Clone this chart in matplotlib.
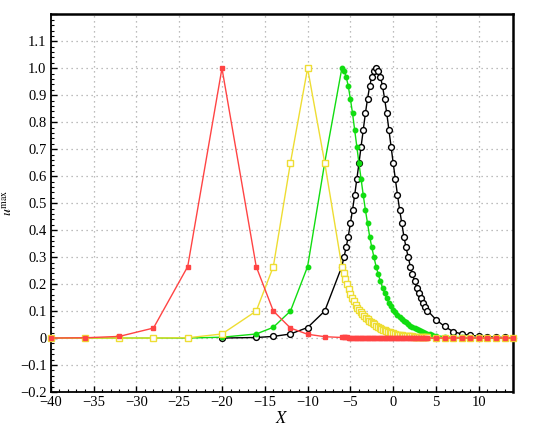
import matplotlib
matplotlib.use("Agg")
import matplotlib.pyplot as plt
from matplotlib.ticker import MultipleLocator, FuncFormatter

# ---- data ----
# red: filled squares, peak at x=-20
red_x_coarse = [-40, -36, -32, -28, -24, -20, -16, -14, -12, -10, -8]
red_y_coarse = [0.0, 0.001, 0.006, 0.037, 0.265, 1.0, 0.265, 0.10, 0.037, 0.014, 0.005]
red_y_fine = [0.002, 0.002, 0.002, 0.002, 0.0018, 0.0016, 0.0015, 0.0014, 0.0013, 0.0012,
              0.0011, 0.001, 0.001, 0.0009, 0.0008, 0.0008, 0.0007, 0.0007, 0.0006, 0.0006,
              0.0005, 0.0005, 0.0005, 0.0004, 0.0004, 0.0004, 0.0003, 0.0003, 0.0003, 0.0003,
              0.0002, 0.0002, 0.0002, 0.0002, 0.0002, 0.0001, 0.0001, 0.0001, 0.0001, 0.0001,
              0.0001, 0.0001, 0.0, 0.0, 0.0, 0.0, 0.0, 0.0, 0.0, 0.0, 0.0]
red_y_tail = [0.0, 0.0, 0.0, 0.0, 0.0, 0.0, 0.0, 0.0, 0.0, 0.0]

# yellow: open squares, peak at x=-10
yellow_x_coarse = [-40, -36, -32, -28, -24, -20, -16, -14, -12, -10, -8]
yellow_y_coarse = [0.0, 0.0, 0.0, 0.0, 0.001, 0.015, 0.10, 0.265, 0.65, 1.0, 0.65]
yellow_y_fine = [0.265, 0.242, 0.219, 0.200, 0.181, 0.164, 0.150, 0.136, 0.123, 0.113,
                 0.104, 0.096, 0.089, 0.082, 0.076, 0.070, 0.065, 0.060, 0.056, 0.051,
                 0.046, 0.042, 0.038, 0.034, 0.031, 0.028, 0.026, 0.023, 0.021, 0.019,
                 0.017, 0.015, 0.013, 0.012, 0.011, 0.010, 0.009, 0.008, 0.0075, 0.007,
                 0.0065, 0.006, 0.0055, 0.005, 0.0045, 0.004, 0.0037, 0.0034, 0.0031, 0.0028,
                 0.0025]
yellow_y_tail = [0.001, 0.0005, 0.0003, 0.0002, 0.0001, 0.0, 0.0, 0.0, 0.0, 0.0]

# green: filled circles, peak at x=-6
green_x_coarse = [-40, -36, -32, -28, -24, -20, -16, -14, -12, -10, -8]
green_y_coarse = [0.0, 0.0, 0.0, 0.0, 0.0, 0.003, 0.015, 0.04, 0.10, 0.265, 0.65]
green_y_fine = [1.0, 0.991, 0.969, 0.934, 0.886, 0.833, 0.771, 0.710, 0.648, 0.589,
                0.530, 0.475, 0.426, 0.376, 0.336, 0.300, 0.265, 0.237, 0.210, 0.187,
                0.166, 0.147, 0.131, 0.117, 0.105, 0.095, 0.086, 0.078, 0.070, 0.064,
                0.058, 0.052, 0.046, 0.041, 0.036, 0.032, 0.028, 0.025, 0.022, 0.019,
                0.016, 0.014, 0.012]
green_y_tail = [0.009, 0.005, 0.003, 0.002, 0.001, 0.0, 0.0, 0.0, 0.0, 0.0]

# black: open circles, peak near x=-2
black_x_coarse = [-20, -16, -14, -12, -10, -8]
black_y_coarse = [0.0, 0.002, 0.006, 0.015, 0.039, 0.10]
black_y_fine = [0.265, 0.300, 0.336, 0.376, 0.426, 0.475, 0.530, 0.589, 0.648, 0.710,
                0.771, 0.833, 0.886, 0.934, 0.969, 0.991, 1.0, 0.991, 0.969, 0.934,
                0.886, 0.833, 0.771, 0.710, 0.648, 0.589, 0.530, 0.475, 0.426, 0.376,
                0.336, 0.300, 0.265, 0.237, 0.210, 0.187, 0.166, 0.147, 0.131, 0.116,
                0.102]
black_y_tail = [0.068, 0.043, 0.024, 0.015, 0.010, 0.007, 0.005, 0.003, 0.002, 0.001]

# sample grids
x_fine_02 = [-6.0, -5.8, -5.6, -5.4, -5.2, -5.0, -4.8, -4.6, -4.4, -4.2,
             -4.0, -3.8, -3.6, -3.4, -3.2, -3.0, -2.8, -2.6, -2.4, -2.2,
             -2.0, -1.8, -1.6, -1.4, -1.2, -1.0, -0.8, -0.6, -0.4, -0.2,
             0.0, 0.2, 0.4, 0.6, 0.8, 1.0, 1.2, 1.4, 1.6, 1.8,
             2.0, 2.2, 2.4, 2.6, 2.8, 3.0, 3.2, 3.4, 3.6, 3.8, 4.0]
x_fine_025 = [-6.0, -5.75, -5.5, -5.25, -5.0, -4.75, -4.5, -4.25, -4.0, -3.75,
              -3.5, -3.25, -3.0, -2.75, -2.5, -2.25, -2.0, -1.75, -1.5, -1.25,
              -1.0, -0.75, -0.5, -0.25, 0.0, 0.25, 0.5, 0.75, 1.0, 1.25,
              1.5, 1.75, 2.0, 2.25, 2.5, 2.75, 3.0, 3.25, 3.5, 3.75,
              4.0, 4.25, 4.5]
x_tail = [5, 6, 7, 8, 9, 10, 11, 12, 13, 14]

plt.rcParams["font.family"] = ["Liberation Serif", "DejaVu Serif"]
plt.rcParams["mathtext.fontset"] = "stix"
plt.rcParams["axes.unicode_minus"] = True

fig = plt.figure(figsize=(5.43, 4.30), dpi=100)
ax = fig.add_axes([0.0934, 0.0884, 0.8515, 0.8783])

series = [
    # x, y, colour, marker, face, size, zorder
    (black_x_coarse + x_fine_025[:41] + x_tail, black_y_coarse + black_y_fine + black_y_tail,
     "black", "o", "white", 4.2, 3),
    (green_x_coarse + x_fine_025 + x_tail, green_y_coarse + green_y_fine + green_y_tail,
     "#11dd11", "o", "#11dd11", 3.2, 4),
    (yellow_x_coarse + x_fine_02 + x_tail, yellow_y_coarse + yellow_y_fine + yellow_y_tail,
     "#eedd33", "s", "white", 4.0, 5),
    (red_x_coarse + x_fine_02 + x_tail, red_y_coarse + red_y_fine + red_y_tail,
     "#ff4444", "s", "#ff4444", 3.4, 6),
]
for xs, ys, col, mk, face, ms, z in series:
    ax.plot(xs, ys, color=col, lw=1.0, marker=mk, ms=ms, mfc=face, mec=col,
            mew=1.0, zorder=z, clip_on=False)

ax.set_xlim(-40, 14)
ax.set_ylim(-0.2, 1.2)
ax.xaxis.set_major_locator(MultipleLocator(5))
ax.xaxis.set_minor_locator(MultipleLocator(1))
ax.yaxis.set_major_locator(MultipleLocator(0.1))
ax.yaxis.set_minor_locator(MultipleLocator(0.02))


def fmt_y(v, pos):
    if abs(v) < 1e-9:
        return "0"
    if v > 1.15:
        return ""
    return f"{v:.1f}".replace("-", "\u2212")


def fmt_x(v, pos):
    if v > 12:
        return ""
    return f"{v:.0f}".replace("-", "\u2212")


ax.yaxis.set_major_formatter(FuncFormatter(fmt_y))
ax.xaxis.set_major_formatter(FuncFormatter(fmt_x))

ax.tick_params(which="major", direction="in", length=4, width=1.0, labelsize=10.5,
               colors="black", pad=3)
ax.tick_params(which="minor", direction="in", length=2, width=0.8)
ax.tick_params(top=False, right=False, which="both")

ax.grid(True, which="major", color="#a8a8a8", linestyle=(0, (1, 3)), linewidth=0.9)
ax.set_axisbelow(True)

for side in ["left", "bottom", "top", "right"]:
    ax.spines[side].set_linewidth(1.3)
    ax.spines[side].set_color("black")
ax.spines["top"].set_linewidth(1.8)
ax.spines["right"].set_linewidth(1.8)

ax.set_xlabel(r"$X$", fontsize=12, labelpad=1)
ax.set_ylabel(r"$u^{\mathrm{max}}$", fontsize=10)
ax.yaxis.set_label_coords(-0.078, 0.5)

fig.savefig("out.png", dpi=100)
